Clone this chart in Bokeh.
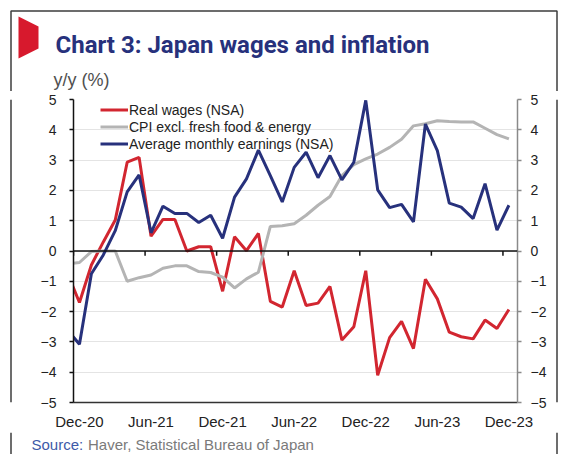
import numpy as np
from bokeh.plotting import figure
from bokeh.layouts import column, row
from bokeh.models import (Range1d, LinearAxis, FixedTicker, Legend, LegendItem, Span)
from bokeh.core.properties import value
from bokeh.embed import file_html
from bokeh.resources import INLINE

# ---------------- data ----------------
months = ["Nov-20", "Dec-20",
          "Jan-21", "Feb-21", "Mar-21", "Apr-21", "May-21", "Jun-21",
          "Jul-21", "Aug-21", "Sep-21", "Oct-21", "Nov-21", "Dec-21",
          "Jan-22", "Feb-22", "Mar-22", "Apr-22", "May-22", "Jun-22",
          "Jul-22", "Aug-22", "Sep-22", "Oct-22", "Nov-22", "Dec-22",
          "Jan-23", "Feb-23", "Mar-23", "Apr-23", "May-23", "Jun-23",
          "Jul-23", "Aug-23", "Sep-23", "Oct-23", "Nov-23", "Dec-23"]

real_wages = [-0.74, -1.70,
              -0.46, 0.30, 1.02, 2.93, 3.09, 0.49, 1.04, 1.04, 0.00, 0.14, 0.14, -1.33,
              0.47, 0.01, 0.58, -1.66, -1.85, -0.65, -1.80, -1.72, -1.17, -2.94, -2.50, -0.65,
              -4.10, -2.86, -2.32, -3.22, -0.93, -1.58, -2.68, -2.83, -2.90, -2.28, -2.56, -1.93]

cpi_core = [-0.42, -0.38,
            -0.02, 0.00, 0.00, -1.00, -0.88, -0.79, -0.57, -0.49, -0.49, -0.68, -0.71, -0.86,
            -1.22, -0.92, -0.70, 0.81, 0.83, 0.90, 1.18, 1.51, 1.80, 2.49, 2.85, 3.04,
            3.20, 3.42, 3.69, 4.13, 4.20, 4.30, 4.27, 4.26, 4.26, 4.05, 3.84, 3.70]

earnings = [-2.61, -3.08,
            -0.75, -0.13, 0.67, 1.95, 2.51, 0.60, 1.48, 1.24, 1.24, 0.94, 1.18, 0.42,
            1.78, 2.38, 3.33, 2.49, 1.62, 2.76, 3.26, 2.42, 3.15, 2.35, 2.93, 4.97,
            2.02, 1.43, 1.54, 0.96, 4.19, 3.31, 1.58, 1.45, 1.07, 2.22, 0.69, 1.51]

x_tick_labels = ["Dec-20", "Jun-21", "Dec-21", "Jun-22", "Dec-22", "Jun-23", "Dec-23"]
y_ticks = [-5, -4, -3, -2, -1, 0, 1, 2, 3, 4, 5]

series_names = ["Real wages (NSA)", "CPI excl. fresh food & energy",
                "Average monthly earnings (NSA)"]
title_text = "Chart 3: Japan wages and inflation"
unit_text = "y/y (%)"
source_head = "Source:"
source_body = "Haver, Statistical Bureau of Japan"

# ---------------- styles ----------------
RED = "#d22630"
FLAG = "#d7192d"
NAVY = "#27317c"
GREY = "#b4b4b4"
BORDER = "#3c3c3c"
FONT = "Liberation Sans"

W, H = 561, 454
HEAD_H = 91
FOOT_Y = 432
LSTRIP, RSTRIP = 14, 549


def page_fig(x0, x1, y0, y1):
    """A plain SVG figure whose data units are page pixels (y downwards)."""
    f = figure(width=int(round(x1 - x0)), height=int(round(y1 - y0)),
               x_range=Range1d(x0, x1), y_range=Range1d(y1, y0),
               output_backend="svg", toolbar_location=None, min_border=0,
               x_axis_location=None, y_axis_location=None,
               background_fill_color="white", border_fill_color="white")
    f.outline_line_color = None
    f.grid.visible = False
    return f


BX0, BX1 = 10.5, 556.5   # outer border x (page px)

# ---------------- header ----------------
head = page_fig(0, W, 0, HEAD_H)
head.line(x=[BX0, BX0, BX1, BX1], y=[HEAD_H, 10.5, 10.5, HEAD_H], line_color=BORDER,
          line_width=1.5)
head.patch(x=[18, 38, 38, 18], y=[16, 26, 48, 58], fill_color=FLAG, line_color=None)
head.text(x=[55], y=[44], text=[title_text], text_font=value("Roboto"),
          text_font_style="bold", text_font_size="24px", text_color=NAVY,
          text_baseline="middle")
head.text(x=[53], y=[79], text=[unit_text], text_font=value(FONT),
          text_font_size="18px", text_color="#505050", text_baseline="middle")

# ---------------- side strips ----------------
left_strip = page_fig(0, LSTRIP, HEAD_H, FOOT_Y)
left_strip.line(x=[BX0, BX0], y=[HEAD_H, FOOT_Y], line_color=BORDER, line_width=1.5)
right_strip = page_fig(RSTRIP, W, HEAD_H, FOOT_Y)
right_strip.line(x=[BX1, BX1], y=[HEAD_H, FOOT_Y], line_color=BORDER, line_width=1.5)

# ---------------- footer ----------------
foot = page_fig(0, W, FOOT_Y, H)
foot.line(x=[BX0, BX0], y=[FOOT_Y, H], line_color=BORDER, line_width=1.5)
foot.line(x=[BX1, BX1], y=[FOOT_Y, H], line_color=BORDER, line_width=1.5)
foot.text(x=[31], y=[444], text=[source_head], text_font=value(FONT),
          text_font_size="15px", text_color="#3d5aa8", text_baseline="middle")
foot.text(x=[87.5], y=[444], text=[source_body], text_font=value(FONT),
          text_font_size="15px", text_color="#7a7a7a", text_baseline="middle")

# ---------------- chart ----------------
x = np.arange(len(months)) - months.index("Dec-20")
label_pos = [months.index(m) - months.index("Dec-20") for m in x_tick_labels]
tick_pos = [v - 0.5 for v in label_pos]

p = figure(width=RSTRIP - LSTRIP, height=FOOT_Y - HEAD_H, output_backend="svg",
           toolbar_location=None,
           x_range=Range1d(-0.5, 36.72), y_range=Range1d(-5, 5),
           min_border_left=73 - LSTRIP, min_border_right=RSTRIP - 523,
           min_border_top=99 - HEAD_H, min_border_bottom=FOOT_Y - 404,
           background_fill_color="white", border_fill_color="white")
p.outline_line_color = None

p.xgrid.grid_line_color = None
p.ygrid.ticker = FixedTicker(ticks=y_ticks)
p.ygrid.grid_line_color = "#e4e4e4"
p.ygrid.grid_line_width = 1

ya = p.yaxis[0]
ya.ticker = FixedTicker(ticks=y_ticks)
ya.axis_line_color = "#111111"
ya.axis_line_width = 1.5
ya.major_tick_line_color = "#111111"
ya.major_tick_line_width = 1.5
ya.major_tick_out = 4
ya.major_tick_in = 0
ya.minor_tick_line_color = None
ya.major_label_standoff = 13
ya.major_label_text_font = FONT
ya.major_label_text_font_size = "14px"
ya.major_label_text_color = "#222222"

yr = LinearAxis(ticker=FixedTicker(ticks=y_ticks))
yr.axis_line_color = "#8a8a8a"
yr.axis_line_width = 1.5
yr.major_tick_line_color = "#8a8a8a"
yr.major_tick_line_width = 1.5
yr.major_tick_out = 4
yr.major_tick_in = 0
yr.minor_tick_line_color = None
yr.major_label_standoff = 9
yr.major_label_text_font = FONT
yr.major_label_text_font_size = "14px"
yr.major_label_text_color = "#222222"
p.add_layout(yr, "right")

xa = p.xaxis[0]
xa.ticker = FixedTicker(ticks=label_pos)
xa.major_label_overrides = {pos: lab for pos, lab in zip(label_pos, x_tick_labels)}
xa.axis_line_color = "#333333"
xa.axis_line_width = 1.5
xa.major_tick_line_color = None
xa.major_tick_out = 0
xa.major_tick_in = 0
xa.minor_tick_line_color = None
xa.major_label_standoff = 10
xa.major_label_text_font = FONT
xa.major_label_text_font_size = "15px"
xa.major_label_text_color = "#222222"

p.add_layout(Span(location=0, dimension="width", line_color="#111111", line_width=1.5))
p.segment(x0=tick_pos, y0=[0] * len(tick_pos), x1=tick_pos, y1=[-0.16] * len(tick_pos),
          line_color="#111111", line_width=1.5)

r_red = p.line(x, real_wages, line_color=RED, line_width=3)
r_grey = p.line(x, cpi_core, line_color=GREY, line_width=3)
r_navy = p.line(x, earnings, line_color=NAVY, line_width=3)

# location tuple = legend's bottom-left corner, measured from the frame's bottom-left
legend = Legend(items=[LegendItem(label=series_names[0], renderers=[r_red]),
                       LegendItem(label=series_names[1], renderers=[r_grey]),
                       LegendItem(label=series_names[2], renderers=[r_navy])],
                location=(27, 250), orientation="vertical", padding=0, margin=0,
                spacing=0, glyph_width=28, glyph_height=17, label_height=17,
                label_standoff=1, label_text_font=FONT, label_text_font_size="14px",
                label_text_color="#222222", background_fill_alpha=0,
                border_line_color=None)
p.add_layout(legend)

layout = column(head, row(left_strip, p, right_strip, spacing=0), foot, spacing=0)

open("out.html", "w").write(file_html(layout, INLINE))
